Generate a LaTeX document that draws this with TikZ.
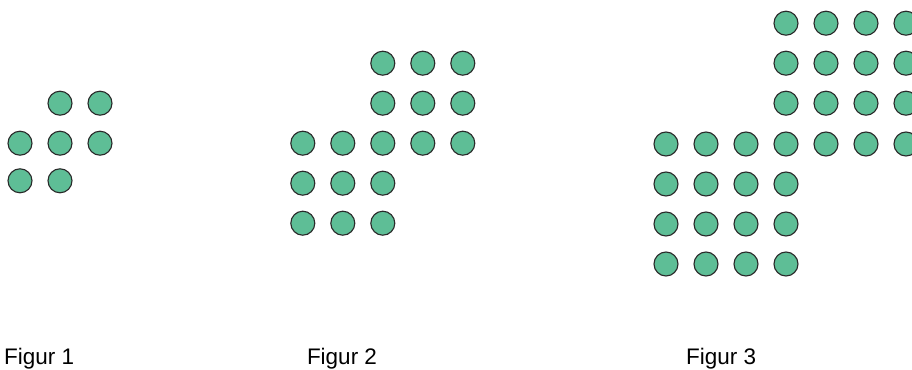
\documentclass[tikz,border=0pt]{standalone}
\usepackage{fontspec}
\setmainfont{Liberation Sans}
\definecolor{dotgreen}{HTML}{5EBE96}
\definecolor{dotline}{HTML}{2A2A2A}
\begin{document}
\begin{tikzpicture}[
        x=1cm, y=-1cm,
        dot/.style={
            circle,
            draw=dotline,
            fill=dotgreen,
            line width=0.8pt,
            minimum size=0.6cm,
            inner sep=0pt
        },
        caption/.style={
            font=\fontsize{16}{19}\selectfont,
            anchor=base,
            inner sep=0pt
        }
    ]
        \clip (0,0) rectangle (22.8,9.225);
        \useasboundingbox (0,0) rectangle (22.8,9.225);

        % Figur 1
        \foreach \c in {1,2} \node[dot] (a1\c) at (0.5+\c,2.58) {};
        \foreach \c in {0,1,2} \node[dot] (a2\c) at (0.5+\c,3.58) {};
        \foreach \c in {0,1} \node[dot] (a3\c) at (0.5+\c,4.52) {};

        % Figur 2
        \foreach \r in {1,2}
            \foreach \c in {2,3,4} \node[dot] (b\r\c) at (7.57+\c,0.58+\r) {};
        \foreach \c in {0,...,4} \node[dot] (b3\c) at (7.57+\c,3.58) {};
        \foreach \r in {4,5}
            \foreach \c in {0,1,2} \node[dot] (b\r\c) at (7.57+\c,0.58+\r) {};

        % Figur 3
        \foreach \r in {0,1,2}
            \foreach \c in {3,...,6} \node[dot] (c\r\c) at (16.65+\c,0.58+\r) {};
        \foreach \c in {0,...,6} \node[dot] (c3\c) at (16.65+\c,3.6) {};
        \foreach \r in {4,5,6}
            \foreach \c in {0,...,3} \node[dot] (c\r\c) at (16.65+\c,0.6+\r) {};

        \node[caption] (fig1) at (0.98,9.12) {Figur 1};
        \node[caption] (fig2) at (8.55,9.12) {Figur 2};
        \node[caption] (fig3) at (18.03,9.12) {Figur 3};
    \end{tikzpicture}
\end{document}
